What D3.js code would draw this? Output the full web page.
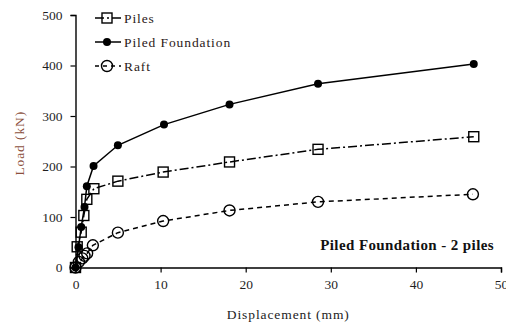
<!DOCTYPE html>
<html>
<head>
<meta charset="utf-8">
<script src="https://cdn.jsdelivr.net/npm/d3@7"></script>
<style>
  html, body { margin: 0; padding: 0; background: #fff; }
  svg { display: block; }
  svg text { font-family: "Liberation Serif", "DejaVu Serif", serif !important; }
</style>
</head>
<body>
<svg id="chart" width="506" height="324"></svg>
<script>
// Load–displacement test results (displacement in mm, load in kN)
const pilesDisp   = [0, 0.2, 0.67, 0.98, 1.33, 2.16, 4.98, 10.3, 18.1, 28.5, 46.8];
const pilesLoad   = [0, 41, 70, 103, 135, 156, 171, 189, 209, 234, 259];

const pfDisp      = [0, 0.35, 0.67, 1.06, 1.33, 2.12, 4.98, 10.4, 18.1, 28.5, 46.8];
const pfLoad      = [0, 40, 80, 120, 161, 201, 242, 283, 323, 364, 403];

const raftDisp    = [0, 0.4, 0.8, 1.06, 1.37, 2.04, 4.98, 10.3, 18.1, 28.5, 46.7];
const raftLoad    = [0, 11, 18, 23, 28, 44, 69, 92, 113, 130, 145];

const xTicks = [0, 10, 20, 30, 40, 50];
const yTicks = [0, 100, 200, 300, 400, 500];

const seriesNames = ["Piles", "Piled Foundation", "Raft"];
const annotation = "Piled Foundation - 2 piles";

const FONT = "'Liberation Serif', 'DejaVu Serif', serif";
const svg = d3.select("#chart");
const plotLeft = 75.5, plotRight = 501, plotTop = 15, plotBottom = 267.5;

const x = d3.scaleLinear().domain([0, 50]).range([plotLeft, plotRight]);
const y = d3.scaleLinear().domain([0, 500]).range([plotBottom, plotTop]);

const toPts = (xs, ys) => xs.map((d, i) => [d, ys[i]]);
const series = [
  { name: seriesNames[0], pts: toPts(pilesDisp, pilesLoad), dash: "9,3,2,3", marker: "square" },
  { name: seriesNames[1], pts: toPts(pfDisp, pfLoad), dash: null, marker: "dot" },
  { name: seriesNames[2], pts: toPts(raftDisp, raftLoad), dash: "5,4", marker: "ring" }
];

// Axes
const xAxis = d3.axisBottom(x).tickValues(xTicks).tickSize(5).tickPadding(7).tickSizeOuter(5);
const yAxis = d3.axisLeft(y).tickValues(yTicks).tickSize(5).tickPadding(8).tickSizeOuter(5);

const gx = svg.append("g").attr("transform", `translate(0,${plotBottom})`).call(xAxis);
const gy = svg.append("g").attr("transform", `translate(${plotLeft},0)`).call(yAxis);
[gx, gy].forEach(g => {
  g.attr("font-family", FONT).attr("font-size", 13.5);
  g.select(".domain").attr("stroke", "#000").attr("stroke-width", 1.4);
  g.selectAll(".tick line").attr("stroke", "#000").attr("stroke-width", 1.2);
  g.selectAll(".tick text").attr("fill", "#1f1f1f");
});

// Axis titles
svg.append("text")
  .attr("x", (plotLeft + plotRight) / 2).attr("y", 319)
  .attr("text-anchor", "middle")
  .attr("fill", "#222")
  .attr("font-family", FONT)
  .style("font-size", "13.5px").style("letter-spacing", "0.9px")
  .text("Displacement (mm)");

svg.append("text")
  .attr("transform", `translate(24,${(plotTop + plotBottom) / 2 + 2}) rotate(-90)`)
  .attr("text-anchor", "middle")
  .attr("fill", "#8c4f3c")
  .attr("font-family", FONT)
  .style("font-size", "13.5px").style("letter-spacing", "0.9px")
  .text("Load (kN)");

// Series lines
const line = d3.line().x(d => x(d[0])).y(d => y(d[1]));
const plot = svg.append("g");

function drawMarker(g, type, cx, cy) {
  if (type === "square") {
    g.append("rect").attr("x", cx - 5).attr("y", cy - 5).attr("width", 10).attr("height", 10)
      .attr("fill", "none").attr("stroke", "#000").attr("stroke-width", 1.4);
  } else if (type === "dot") {
    g.append("circle").attr("cx", cx).attr("cy", cy).attr("r", 4)
      .attr("fill", "#000");
  } else {
    g.append("circle").attr("cx", cx).attr("cy", cy).attr("r", 5.5)
      .attr("fill", "none").attr("stroke", "#000").attr("stroke-width", 1.4);
  }
}

const order = [series[2], series[0], series[1]];
order.forEach(s => {
  plot.append("path").datum(s.pts)
    .attr("d", line)
    .attr("fill", "none")
    .attr("stroke", "#000")
    .attr("stroke-width", 1.5)
    .attr("stroke-dasharray", s.dash);
});
order.forEach(s => {
  const g = plot.append("g");
  s.pts.forEach(p => drawMarker(g, s.marker, x(p[0]), y(p[1])));
});

// Legend
const legendY = [18, 42, 66];
series.forEach((s, i) => {
  const g = svg.append("g").attr("transform", `translate(0,${legendY[i]})`);
  g.append("line").attr("x1", 95).attr("x2", 121).attr("y1", 0).attr("y2", 0)
    .attr("stroke", "#000").attr("stroke-width", 1.5)
    .attr("stroke-dasharray", s.dash ? (i === 0 ? "9,3,2,3" : "4,4") : null);
  drawMarker(g, s.marker, 107, 0);
  g.append("text").attr("x", 124).attr("y", 4.5)
    .attr("fill", "#2b2018")
    .attr("font-family", FONT)
    .style("font-size", "13.5px").style("letter-spacing", "0.9px")
    .text(s.name);
});

// Annotation
svg.append("text")
  .attr("x", 494).attr("y", 250)
  .attr("text-anchor", "end")
  .attr("fill", "#111")
  .attr("font-family", FONT)
  .style("font-size", "15px").style("font-weight", "bold").style("letter-spacing", "0.4px")
  .text(annotation);
</script>
</body>
</html>
